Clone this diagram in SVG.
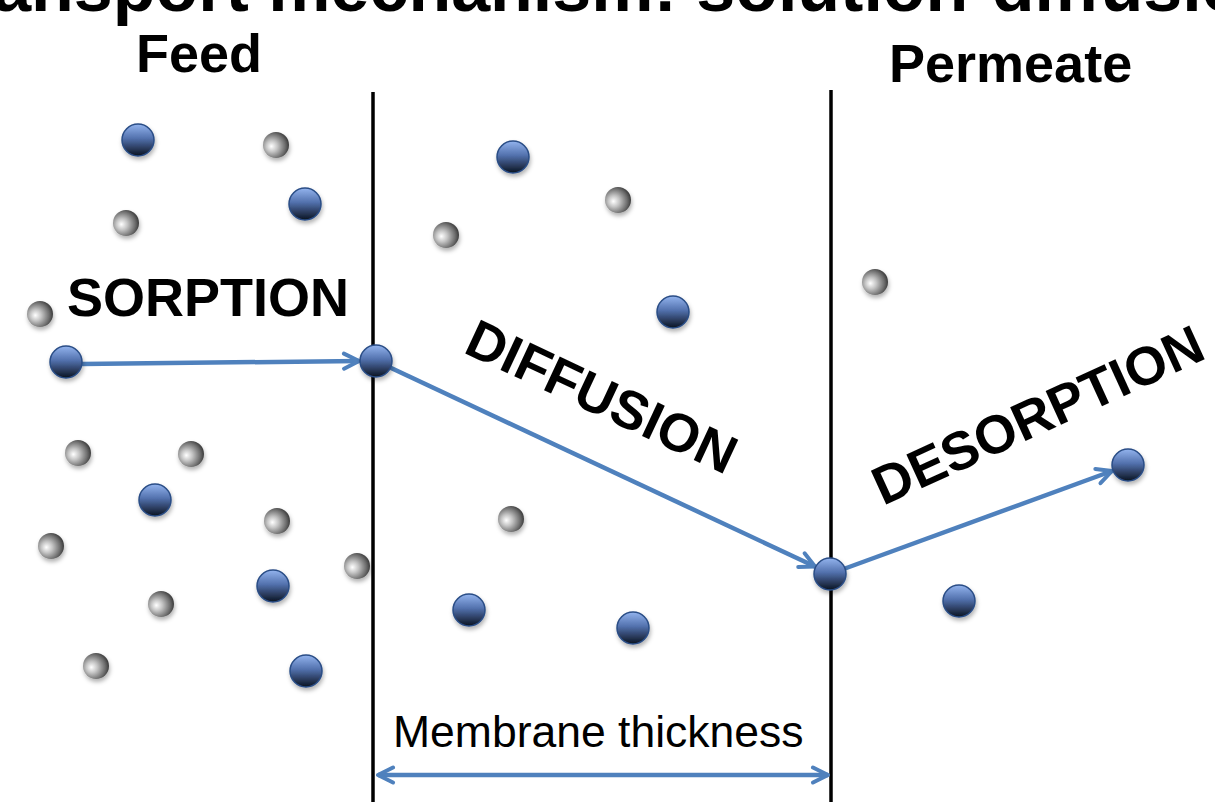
<svg xmlns="http://www.w3.org/2000/svg" width="1215" height="802" viewBox="0 0 1215 802">
<defs>
  <linearGradient id="gBlue" x1="0" y1="0" x2="0" y2="1">
    <stop offset="0" stop-color="#93b4ee"/>
    <stop offset="0.45" stop-color="#5271ad"/>
    <stop offset="1" stop-color="#0b1220"/>
  </linearGradient>
  <radialGradient id="gGray" cx="0.38" cy="0.55" r="0.62" fx="0.32" fy="0.55">
    <stop offset="0" stop-color="#ffffff"/>
    <stop offset="0.35" stop-color="#c4c4c4"/>
    <stop offset="0.8" stop-color="#6a6a6a"/>
    <stop offset="1" stop-color="#3c3c3c"/>
  </radialGradient>
  <filter id="shadow" x="-50%" y="-50%" width="200%" height="200%">
    <feDropShadow dx="1" dy="3" stdDeviation="2" flood-color="#000" flood-opacity="0.3"/>
  </filter>
  <marker id="arr" viewBox="0 0 20 20" refX="18" refY="10" markerWidth="20" markerHeight="20" markerUnits="userSpaceOnUse" orient="auto-start-reverse">
    <path d="M3,2.5 L18,10 L3,17.5" fill="none" stroke="#4f81bd" stroke-width="4" stroke-linecap="round" stroke-linejoin="round"/>
  </marker>
  <style>
    .blue { fill: url(#gBlue); stroke: #2a4d86; stroke-width: 1.5; filter: url(#shadow); }
    .gray { fill: url(#gGray); filter: url(#shadow); }
    .lbl { font-family: "Liberation Sans", Arial, sans-serif; font-weight: bold; fill: #000; font-size: 54px; }
    .mem { stroke: #000; stroke-width: 3.5; fill: none; }
    .conn { stroke: #4f81bd; stroke-width: 4.5; fill: none; marker-end: url(#arr); }
  </style>
</defs>
<rect width="1215" height="802" fill="#fff"/>

<text id="title" x="-74" y="11" font-family="Liberation Sans, Arial, sans-serif" font-weight="bold" font-size="70" fill="#000">Transport mechanism: solution-diffusion</text>

<g id="membrane">
  <line class="mem" x1="373" y1="92" x2="373" y2="802"/>
  <line class="mem" x1="831" y1="90" x2="831" y2="802"/>
</g>

<g id="labels">
  <text id="lbl-feed" class="lbl" x="136" y="72">Feed</text>
  <text id="lbl-permeate" class="lbl" x="889" y="82">Permeate</text>
  <text id="lbl-sorption" class="lbl" x="67" y="316">SORPTION</text>
  <text id="lbl-diffusion" class="lbl" transform="translate(462,352) rotate(25)">DIFFUSION</text>
  <text id="lbl-desorption" class="lbl" transform="translate(883,506) rotate(-24.5)">DESORPTION</text>
  <text id="lbl-thickness" x="393" y="747" font-family="Liberation Sans, Arial, sans-serif" font-size="44.5" fill="#000">Membrane thickness</text>
</g>

<g id="connectors">
  <line class="conn" x1="82" y1="364" x2="359" y2="361"/>
  <line class="conn" x1="389" y1="367" x2="815" y2="566.5"/>
  <line class="conn" x1="845" y1="568.5" x2="1112" y2="471"/>
  <line class="conn" x1="378" y1="775" x2="828" y2="775" marker-start="url(#arr)"/>
</g>

<g id="gray-molecules">
  <circle id="g1" class="gray" cx="276" cy="145" r="13"/>
  <circle id="g2" class="gray" cx="126" cy="223" r="13"/>
  <circle id="g3" class="gray" cx="40" cy="314" r="13"/>
  <circle id="g4" class="gray" cx="78" cy="453" r="13"/>
  <circle id="g5" class="gray" cx="191" cy="454" r="13"/>
  <circle id="g6" class="gray" cx="277" cy="521" r="13"/>
  <circle id="g7" class="gray" cx="51" cy="546" r="13"/>
  <circle id="g8" class="gray" cx="161" cy="604" r="13"/>
  <circle id="g9" class="gray" cx="357" cy="566" r="13"/>
  <circle id="g10" class="gray" cx="96" cy="666" r="13"/>
  <circle id="g11" class="gray" cx="446" cy="235" r="13"/>
  <circle id="g12" class="gray" cx="618" cy="200" r="13"/>
  <circle id="g13" class="gray" cx="511" cy="519" r="13"/>
  <circle id="g14" class="gray" cx="875" cy="282" r="13"/>
</g>

<g id="blue-molecules">
  <circle id="b1" class="blue" cx="138" cy="140" r="16"/>
  <circle id="b2" class="blue" cx="305" cy="204" r="16"/>
  <circle id="b3" class="blue" cx="66" cy="362" r="16"/>
  <circle id="b4" class="blue" cx="376" cy="361" r="16"/>
  <circle id="b5" class="blue" cx="155" cy="500" r="16"/>
  <circle id="b6" class="blue" cx="273" cy="586" r="16"/>
  <circle id="b7" class="blue" cx="306" cy="671" r="16"/>
  <circle id="b8" class="blue" cx="513" cy="157" r="16"/>
  <circle id="b9" class="blue" cx="673" cy="312" r="16"/>
  <circle id="b10" class="blue" cx="469" cy="610" r="16"/>
  <circle id="b11" class="blue" cx="633" cy="628" r="16"/>
  <circle id="b12" class="blue" cx="830" cy="574" r="16"/>
  <circle id="b13" class="blue" cx="959" cy="601" r="16"/>
  <circle id="b14" class="blue" cx="1128" cy="465" r="16"/>
</g>
</svg>
